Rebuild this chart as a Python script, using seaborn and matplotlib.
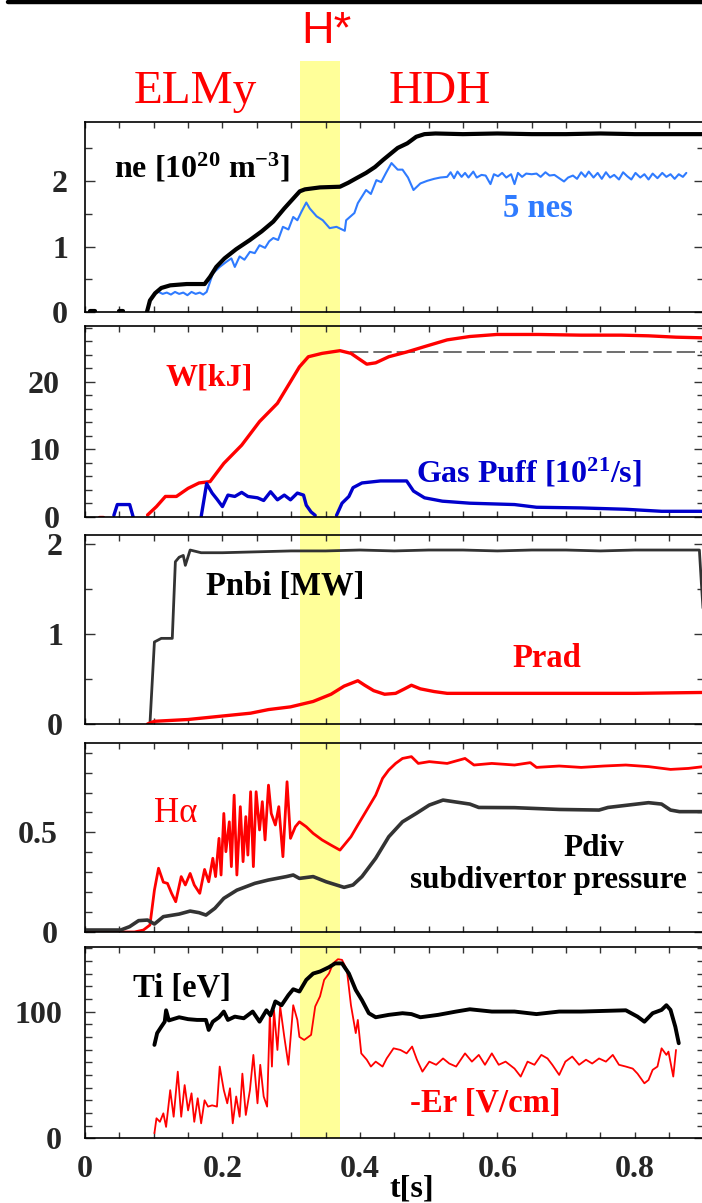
import numpy as np
import pandas as pd
import matplotlib
matplotlib.use("Agg")
import matplotlib.pyplot as plt
import seaborn as sns
from matplotlib.patches import Rectangle
from matplotlib.lines import Line2D
from matplotlib.transforms import blended_transform_factory
from matplotlib.ticker import MultipleLocator, FuncFormatter

# ---------------- data ----------------
# panel 1 : line-averaged density ne and edge density 5*nes
ne_t = [0.090, 0.0945, 0.102, 0.111, 0.124, 0.148, 0.174, 0.182, 0.191, 0.203, 0.220, 0.240, 0.257,
        0.274, 0.290, 0.3125, 0.320, 0.342, 0.371, 0.383, 0.395, 0.409, 0.422, 0.434, 0.455, 0.469,
        0.482, 0.494, 0.510, 0.550, 0.600, 0.650, 0.700, 0.750, 0.800, 0.850, 0.900]
ne_v = [0.0, 0.18, 0.29, 0.37, 0.41, 0.43, 0.43, 0.54, 0.69, 0.82, 0.96, 1.10, 1.23,
        1.38, 1.58, 1.84, 1.87, 1.90, 1.91, 1.97, 2.04, 2.12, 2.21, 2.32, 2.50, 2.57,
        2.67, 2.71, 2.72, 2.71, 2.72, 2.71, 2.71, 2.72, 2.71, 2.71, 2.71]
ne_dot_t = [0.008, 0.014, 0.049, 0.055]
ne_dot_v = [0.02, 0.02, 0.02, 0.02]
ne_dot_seg = [0, 0, 1, 1]

nes_t = [0.107, 0.113, 0.119, 0.125, 0.131, 0.137, 0.143, 0.149, 0.155, 0.161, 0.167, 0.172, 0.177,
         0.186, 0.196, 0.206, 0.213, 0.218, 0.225, 0.232, 0.240, 0.247, 0.254, 0.262, 0.268, 0.274,
         0.281, 0.288, 0.296, 0.303, 0.309, 0.315, 0.322, 0.327, 0.337, 0.346, 0.356, 0.366, 0.378,
         0.380, 0.392, 0.397, 0.409, 0.416, 0.424, 0.431, 0.438, 0.446, 0.455, 0.462, 0.470, 0.478,
         0.488, 0.498, 0.508, 0.517, 0.527, 0.532, 0.537, 0.542, 0.548, 0.553, 0.558, 0.565, 0.570,
         0.577, 0.583, 0.590, 0.595, 0.601, 0.607, 0.613, 0.620, 0.625, 0.630, 0.636, 0.642, 0.650,
         0.657, 0.663, 0.670, 0.676, 0.683, 0.690, 0.697, 0.703, 0.710, 0.716, 0.722, 0.728, 0.733,
         0.740, 0.746, 0.752, 0.758, 0.764, 0.770, 0.777, 0.783, 0.789, 0.795, 0.801, 0.808, 0.814,
         0.820, 0.826, 0.833, 0.840, 0.846, 0.852, 0.858, 0.864, 0.870, 0.875]
nes_v = [0.31, 0.28, 0.30, 0.27, 0.31, 0.28, 0.30, 0.26, 0.31, 0.28, 0.30, 0.27, 0.31,
         0.59, 0.69, 0.77, 0.82, 0.69, 0.85, 0.80, 0.92, 0.90, 1.02, 0.98, 1.08, 1.13,
         1.10, 1.30, 1.26, 1.45, 1.40, 1.53, 1.67, 1.58, 1.46, 1.40, 1.28, 1.30, 1.24,
         1.40, 1.51, 1.66, 1.86, 1.80, 2.01, 1.98, 2.12, 2.27, 2.17, 2.17, 2.05, 1.86,
         1.96, 2.00, 2.03, 2.05, 2.06, 2.13, 2.04, 2.14, 2.06, 2.12, 2.05, 2.14, 2.05,
         2.09, 2.08, 1.95, 2.10, 2.07, 2.12, 2.05, 2.10, 1.95, 2.12, 2.06, 2.11, 2.10,
         2.11, 2.06, 2.13, 2.08, 2.09, 2.04, 1.99, 2.05, 2.08, 2.03, 2.13, 2.06, 2.14,
         2.05, 2.12, 2.03, 2.13, 2.05, 2.09, 2.02, 2.13, 2.07, 2.02, 2.12, 2.05, 2.10,
         2.02, 2.11, 2.04, 2.12, 2.06, 2.10, 2.03, 2.10, 2.06, 2.12]

# panel 2 : stored energy W and gas puff rate
w_t = [0.020, 0.026,
       0.091, 0.104, 0.117, 0.133, 0.150, 0.166, 0.182, 0.202, 0.228, 0.254, 0.280, 0.299, 0.312,
       0.325, 0.345, 0.371, 0.387, 0.397, 0.410, 0.423, 0.442, 0.468, 0.494, 0.527, 0.560, 0.599,
       0.660, 0.722, 0.780, 0.820, 0.860, 0.900]
w_v = [0.0, 0.0,
       0.25, 1.5, 3.0, 3.0, 4.2, 5.0, 5.2, 7.9, 10.6, 14.1, 16.8, 20.0, 22.2,
       23.7, 24.2, 24.6, 24.2, 23.5, 22.6, 22.8, 23.7, 24.4, 25.2, 26.2, 26.7, 27.0,
       27.0, 26.9, 26.9, 26.8, 26.6, 26.5]
w_seg = [0, 0] + [1] * 32
w_ref_t = [0.385, 0.900]
w_ref_v = [24.4, 24.4]

gas_t = [0.042, 0.047, 0.065, 0.070,
         0.169, 0.177, 0.185, 0.192, 0.200, 0.208, 0.218, 0.228, 0.237, 0.251, 0.260, 0.270, 0.280,
         0.290, 0.299, 0.309, 0.318, 0.322, 0.329, 0.335,
         0.366, 0.374, 0.384, 0.390, 0.403, 0.430, 0.468, 0.478, 0.494, 0.520, 0.560, 0.625, 0.657,
         0.722, 0.787, 0.839, 0.900]
gas_v = [0.2, 1.8, 1.8, 0.0,
         0.0, 4.9, 3.5, 2.6, 1.5, 3.2, 3.0, 3.6, 3.0, 2.8, 2.4, 3.7, 2.5,
         3.2, 2.5, 3.5, 3.2, 1.7, 0.7, 0.2,
         0.2, 2.0, 3.0, 4.3, 5.0, 5.3, 5.3, 3.8, 2.8, 2.3, 2.0, 1.8, 1.4,
         1.3, 1.1, 0.8, 0.8]
gas_seg = [0] * 4 + [1] * 20 + [2] * 17

# panel 3 : NBI power and radiated power
pnbi_t = [0.0945, 0.101, 0.111, 0.127, 0.1315, 0.137, 0.143, 0.146, 0.153, 0.169, 0.200, 0.250,
          0.300, 0.350, 0.400, 0.450, 0.500, 0.550, 0.600, 0.650, 0.700, 0.750, 0.800, 0.850,
          0.894, 0.897, 0.900]
pnbi_v = [0.0, 0.91, 0.95, 0.95, 1.80, 1.85, 1.87, 1.76, 1.93, 1.90, 1.90, 1.91,
          1.92, 1.92, 1.93, 1.92, 1.93, 1.93, 1.92, 1.93, 1.93, 1.92, 1.93, 1.93,
          1.93, 1.55, 1.20]

prad_t = [0.091, 0.101, 0.150, 0.189, 0.241, 0.267, 0.299, 0.332, 0.358, 0.377, 0.397, 0.407,
          0.420, 0.436, 0.452, 0.465, 0.475, 0.488, 0.508, 0.527, 0.600, 0.700, 0.800, 0.900]
prad_v = [0.0, 0.03, 0.05, 0.08, 0.12, 0.16, 0.19, 0.25, 0.33, 0.42, 0.48, 0.43,
          0.37, 0.33, 0.34, 0.39, 0.43, 0.39, 0.36, 0.34, 0.34, 0.34, 0.34, 0.35]

# panel 4 : H-alpha and subdivertor pressure
ha_t = [0.000, 0.072, 0.085, 0.0945, 0.101, 0.107, 0.114, 0.120, 0.126, 0.132, 0.140, 0.146,
        0.153, 0.159, 0.167, 0.174, 0.180, 0.186, 0.190, 0.195, 0.198, 0.202, 0.205, 0.210,
        0.213, 0.217, 0.221, 0.226, 0.230, 0.234, 0.237, 0.241, 0.245, 0.249, 0.254, 0.258,
        0.262, 0.267, 0.271, 0.277, 0.282, 0.288, 0.294, 0.299, 0.306, 0.312, 0.322, 0.332,
        0.345, 0.358, 0.371, 0.377, 0.387, 0.397, 0.410, 0.423, 0.433, 0.442, 0.452, 0.462,
        0.475, 0.485, 0.501, 0.527, 0.553, 0.566, 0.592, 0.625, 0.648, 0.657, 0.690, 0.722,
        0.755, 0.787, 0.820, 0.852, 0.878, 0.900]
ha_v = [0.0, 0.0, 0.01, 0.035, 0.21, 0.32, 0.25, 0.244, 0.194, 0.152, 0.278, 0.236,
        0.294, 0.236, 0.194, 0.314, 0.252, 0.37, 0.278, 0.47, 0.286, 0.595, 0.403, 0.553,
        0.328, 0.687, 0.286, 0.629, 0.353, 0.579, 0.386, 0.704, 0.328, 0.704, 0.512, 0.654,
        0.462, 0.737, 0.595, 0.537, 0.629, 0.378, 0.754, 0.47, 0.528, 0.553, 0.528, 0.495,
        0.462, 0.436, 0.411, 0.436, 0.478, 0.537, 0.612, 0.687, 0.771, 0.813, 0.846, 0.871,
        0.880, 0.846, 0.855, 0.846, 0.871, 0.838, 0.846, 0.838, 0.850, 0.826, 0.833, 0.826,
        0.833, 0.838, 0.830, 0.816, 0.821, 0.830]

pdiv_t = [0.000, 0.052, 0.065, 0.078, 0.091, 0.101, 0.114, 0.137, 0.153, 0.166, 0.176, 0.189,
          0.202, 0.221, 0.247, 0.267, 0.293, 0.303, 0.312, 0.332, 0.351, 0.377, 0.390, 0.403,
          0.423, 0.442, 0.462, 0.482, 0.501, 0.521, 0.560, 0.573, 0.625, 0.690, 0.748, 0.761,
          0.820, 0.839, 0.852, 0.865, 0.900]
pdiv_v = [0.01, 0.01, 0.027, 0.057, 0.06, 0.04, 0.077, 0.09, 0.105, 0.097, 0.085, 0.119,
          0.169, 0.21, 0.244, 0.261, 0.278, 0.286, 0.269, 0.278, 0.252, 0.224, 0.236, 0.278,
          0.37, 0.478, 0.553, 0.595, 0.637, 0.662, 0.642, 0.625, 0.624, 0.615, 0.612, 0.625,
          0.649, 0.642, 0.612, 0.604, 0.604]

# panel 5 : ion temperature and radial electric field
ti_t = [0.101, 0.105, 0.111, 0.116, 0.118, 0.122, 0.137, 0.150, 0.163, 0.176, 0.180, 0.186,
        0.195, 0.202, 0.208, 0.218, 0.231, 0.244, 0.254, 0.264, 0.270, 0.277, 0.286, 0.296,
        0.303, 0.312, 0.322, 0.332, 0.342, 0.355, 0.364, 0.374, 0.384, 0.394, 0.403, 0.413,
        0.423, 0.442, 0.462, 0.475, 0.488, 0.514, 0.540, 0.560, 0.592, 0.625, 0.657, 0.690,
        0.722, 0.787, 0.804, 0.814, 0.826, 0.839, 0.846, 0.852, 0.859, 0.864]
ti_v = [73.7, 83, 88, 92, 101, 93, 95.5, 94, 93.4, 93.4, 85.5, 92,
        95.5, 100, 93.4, 96, 94.7, 100, 92, 101, 97, 108, 105, 113,
        117.6, 115.8, 125, 130, 131.6, 135, 138, 138, 130, 117, 109, 98.7,
        95.5, 97.4, 98.7, 98, 95.5, 97.4, 100, 101.8, 100, 100, 98, 100,
        100, 101, 96, 92, 98.7, 101.3, 105, 101.3, 88, 75]

er_t = [0.101, 0.104, 0.109, 0.114, 0.118, 0.124, 0.129, 0.135, 0.140, 0.145, 0.150, 0.155,
        0.159, 0.164, 0.169, 0.174, 0.179, 0.185, 0.192, 0.196, 0.202, 0.207, 0.211, 0.215,
        0.220, 0.225, 0.229, 0.234, 0.240, 0.245, 0.251, 0.255, 0.260, 0.265, 0.269, 0.272,
        0.275, 0.280, 0.284, 0.290, 0.296, 0.303, 0.309, 0.312, 0.319, 0.329, 0.335, 0.342,
        0.348, 0.355, 0.361, 0.368, 0.374, 0.381, 0.387, 0.394, 0.397, 0.402, 0.410, 0.416,
        0.423, 0.433, 0.439, 0.449, 0.459, 0.468, 0.476, 0.483, 0.491, 0.501, 0.511, 0.521,
        0.530, 0.540, 0.553, 0.563, 0.573, 0.582, 0.592, 0.602, 0.612, 0.625, 0.634, 0.644,
        0.654, 0.664, 0.673, 0.680, 0.690, 0.699, 0.709, 0.719, 0.729, 0.738, 0.748, 0.758,
        0.768, 0.777, 0.787, 0.797, 0.804, 0.814, 0.820, 0.826, 0.833, 0.839, 0.846, 0.849,
        0.856, 0.860]
er_v = [4, 15.8, 13, 19.7, 9, 38, 17, 52.6, 17, 42, 22, 35.5,
        13, 31.6, 11.8, 30, 25, 26, 25, 56.6, 38, 27.6, 39.5, 11.8,
        33, 17, 51, 18.4, 38, 65.8, 27.6, 58, 33, 25, 98.7, 56.6,
        101, 69.7, 104, 80, 58, 105, 93.4, 80, 77.6, 81.6, 104, 112,
        125, 130, 138, 141.3, 140.8, 133, 105, 83, 93.4, 67, 62, 56.6,
        60.5, 56.6, 63, 71, 69.7, 67, 72.4, 62, 52.6, 60.5, 58, 63,
        59, 56.6, 67, 60.5, 65.8, 58, 67, 58, 60.5, 55, 48.7, 60.5,
        58, 65.8, 63, 58, 50, 60.5, 64.5, 58, 62, 59, 63, 60.5,
        65.8, 58, 56.6, 55, 51, 43.4, 46, 54, 56.6, 71, 65.8, 68.4,
        48.7, 69.7]

hstar_band = [0.3125, 0.3706]

# ---------------- style ----------------
sns.set_theme(style="ticks")
plt.rcParams["font.family"] = ["Liberation Serif", "DejaVu Serif"]
plt.rcParams["font.weight"] = "bold"
plt.rcParams["mathtext.fontset"] = "custom"
plt.rcParams["mathtext.rm"] = "Liberation Serif:bold"
plt.rcParams["mathtext.bf"] = "Liberation Serif:bold"
plt.rcParams["mathtext.it"] = "Liberation Serif:bold:italic"
plt.rcParams["mathtext.default"] = "rm"

RED = "#ff0000"
LBLUE = "#2f7bff"
DBLUE = "#0000cc"
DGRAY = "#333333"

W, H = 702, 1203
fig = plt.figure(figsize=(W / 100, H / 100), dpi=100)
fig.patch.set_facecolor("white")


def fx(x):
    return x / W


def fy(y):
    return 1 - y / H


panels = [(122.3, 312.3), (325.7, 516.7), (534.7, 724.0), (742.7, 932.0), (947.3, 1138.3)]
ylims = [2.89, 28.3, 2.1, 0.95, 150.7]
ymaj = [1, 10, 1, 0.5, 100]
ymin = [0.5, 2, 0.5, 0.1, 10]
ypads = [12.2, 18, 15.8, 19.4, 16.6]

axes = []
for (top, bot), ytop, ma, mi, pd_ in zip(panels, ylims, ymaj, ymin, ypads):
    ax = fig.add_axes([fx(85), fy(bot), fx(703.5) - fx(85), (bot - top) / H])
    ax.set_facecolor("none")
    ax.set_xlim(0, 0.9)
    ax.set_ylim(0, ytop)
    ax.xaxis.set_major_locator(MultipleLocator(0.2))
    ax.xaxis.set_minor_locator(MultipleLocator(0.05))
    ax.yaxis.set_major_locator(MultipleLocator(ma))
    ax.yaxis.set_minor_locator(MultipleLocator(mi))
    ax.yaxis.set_major_formatter(FuncFormatter(lambda v, p: "%g" % v))
    ax.xaxis.set_major_formatter(FuncFormatter(lambda v, p: "%g" % v))
    ax.tick_params(axis="both", which="both", direction="in", top=True, right=True,
                   color=DGRAY, width=1.0, labelsize=23)
    ax.tick_params(axis="x", which="both", length=4.3, pad=12)
    ax.tick_params(axis="y", which="major", length=7, pad=pd_)
    ax.tick_params(axis="y", which="minor", length=4.8)
    for s in ax.spines.values():
        s.set_color("black")
        s.set_linewidth(1.2)
    ax.set_xlabel("")
    ax.set_ylabel("")
    axes.append(ax)

for ax in axes[:-1]:
    ax.tick_params(axis="x", labelbottom=False)

# yellow H* band spanning all panels
tr = blended_transform_factory(axes[-1].transData, fig.transFigure)
band = Rectangle((hstar_band[0], fy(1138.3)), hstar_band[1] - hstar_band[0], fy(61) - fy(1138.3),
                 transform=tr, facecolor="#ffff99", edgecolor="none", zorder=-1)
fig.add_artist(band)

# top black rule
fig.add_artist(Line2D([fx(8), fx(702)], [fy(2), fy(2)], color="black", lw=3.2, transform=fig.transFigure))


def seg_df(t, v, seg=None):
    d = pd.DataFrame({"t": t, "v": v})
    d["seg"] = seg if seg is not None else 0
    return d


def draw(ax, t, v, color, lw, seg=None, ls="-"):
    sns.lineplot(data=seg_df(t, v, seg), x="t", y="v", units="seg", estimator=None, sort=False,
                 color=color, lw=lw, ax=ax, linestyle=ls, clip_on=True)


# panel 1
ax = axes[0]
draw(ax, nes_t, nes_v, LBLUE, 1.5)
draw(ax, ne_t, ne_v, "black", 3.0)
draw(ax, ne_dot_t, ne_dot_v, "black", 3.0, seg=ne_dot_seg)

# panel 2
ax = axes[1]
sns.lineplot(x=w_ref_t, y=w_ref_v, ax=ax, color="#555555", lw=1.2, linestyle=(0, (11, 3)))
draw(ax, w_t, w_v, RED, 2.4, seg=w_seg)
draw(ax, gas_t, gas_v, DBLUE, 2.4, seg=gas_seg)

# panel 3
ax = axes[2]
draw(ax, pnbi_t, pnbi_v, DGRAY, 2.0)
draw(ax, prad_t, prad_v, RED, 2.4)

# panel 4
ax = axes[3]
draw(ax, ha_t, ha_v, RED, 2.0)
draw(ax, pdiv_t, pdiv_v, DGRAY, 2.6)

# panel 5
ax = axes[4]
draw(ax, er_t, er_v, RED, 1.3)
draw(ax, ti_t, ti_v, "black", 2.8)

for ax in axes:
    ax.set_xlabel("")
    ax.set_ylabel("")
    ax.set_xlim(0, 0.9)

# ---------------- texts ----------------
def ftext(x, y, s, **kw):
    fig.text(fx(x), fy(y), s, ha="left", va="baseline", **kw)


ftext(301, 43.3, "H*", color=RED, fontsize=32.5, fontweight="normal", family="Liberation Sans")
ftext(134, 103.3, "ELMy", color=RED, fontsize=34, fontweight="normal")
ftext(389, 103.3, "HDH", color=RED, fontsize=34, fontweight="normal")

ftext(114, 177, r"ne [10$^{20}$ m$^{-3}$]", color="black", fontsize=23)
ftext(503, 216.7, "5 nes", color=LBLUE, fontsize=23.5)
ftext(166, 386, "W[kJ]", color=RED, fontsize=23)
ftext(416, 482, r"Gas Puff [10$^{21}$/s]", color=DBLUE, fontsize=23)
ftext(206, 595, "Pnbi [MW]", color="black", fontsize=23.5)
ftext(512, 666.7, "Prad", color=RED, fontsize=23.5)
ftext(154, 821.7, "H\u03b1", color=RED, fontsize=25, fontweight="normal")
ftext(563, 856, "Pdiv", color="black", fontsize=22.5)
ftext(410, 888, "subdivertor pressure", color="black", fontsize=22.5)
ftext(133, 996.7, "Ti [eV]", color="black", fontsize=23.5)
ftext(410, 1111.7, "-Er [V/cm]", color=RED, fontsize=23.5)

fig.text(fx(412), fy(1196.5), "t[s]", ha="center", va="baseline", fontsize=23, color="black")

fig.savefig("out.png", dpi=100)
